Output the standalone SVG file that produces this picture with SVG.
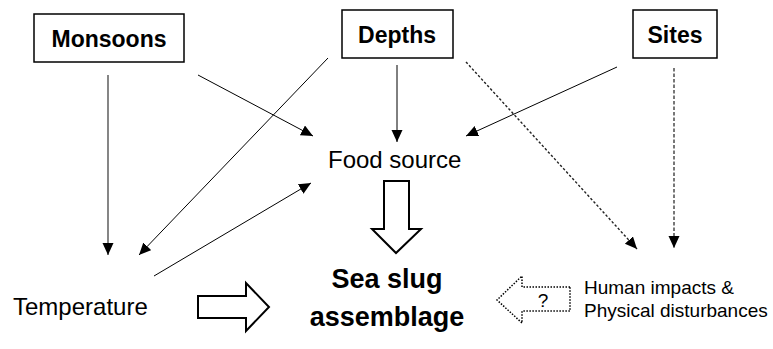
<svg xmlns="http://www.w3.org/2000/svg" width="773" height="349" viewBox="0 0 773 349">
  <style>
    .box { fill: #ffffff; stroke: #000000; stroke-width: 1.5; }
    .title { font-family: "Liberation Sans", Arial, sans-serif; font-weight: bold; font-size: 23px; fill: #000; text-anchor: middle; }
    .label { font-family: "Liberation Sans", Arial, sans-serif; font-size: 24px; fill: #000; }
    .small { font-family: "Liberation Sans", Arial, sans-serif; font-size: 19px; fill: #000; }
    .main { font-family: "Liberation Sans", Arial, sans-serif; font-weight: bold; font-size: 27px; fill: #000; text-anchor: middle; }
    .link { stroke: #000; stroke-width: 1; fill: none; marker-end: url(#tri); }
    .dash { stroke: #222; stroke-width: 1.4; fill: none; stroke-dasharray: 2.5 2; marker-end: url(#tri); }
    .hollow { fill: #fff; stroke: #000; stroke-width: 2; stroke-linejoin: miter; }
    .dotted { fill: #fff; stroke: #000; stroke-width: 1.5; stroke-dasharray: 1.5 1.5; }
  </style>
  <defs>
    <marker id="tri" markerUnits="userSpaceOnUse" markerWidth="14" markerHeight="12" refX="12" refY="5.5" orient="auto">
      <path d="M0,0 L12,5.5 L0,11 Z" fill="#000"/>
    </marker>
  </defs>

  <rect width="773" height="349" fill="#fff"/>

  <g id="connectors">
    <line class="link" x1="108" y1="75" x2="108" y2="255" style="stroke:#444;stroke-width:1.3"/>
    <line class="link" x1="198" y1="75" x2="313" y2="136"/>
    <line class="link" x1="328" y1="58" x2="139" y2="255"/>
    <line class="link" x1="397" y1="65" x2="397" y2="142"/>
    <line class="link" x1="617" y1="67" x2="466" y2="136"/>
    <line class="link" x1="154" y1="276" x2="311" y2="183"/>
    <line class="dash" x1="466" y1="62" x2="637" y2="249"/>
    <line class="dash" x1="674" y1="68" x2="674" y2="248" style="stroke:#777;stroke-width:2;stroke-dasharray:3.5 2"/>
  </g>

  <g id="monsoons">
    <rect class="box" x="34" y="14" width="150" height="48"/>
    <text class="title" x="109" y="47">Monsoons</text>
  </g>

  <g id="depths">
    <rect class="box" x="342" y="10" width="111" height="48"/>
    <text class="title" x="397" y="43">Depths</text>
  </g>

  <g id="sites">
    <rect class="box" x="633" y="10" width="84" height="48"/>
    <text class="title" x="675" y="43">Sites</text>
  </g>

  <g id="food-source">
    <text class="label" x="328" y="168">Food source</text>
  </g>

  <g id="temperature">
    <text class="label" x="13" y="315">Temperature</text>
  </g>

  <g id="human-impacts">
    <text class="small" x="584" y="294">Human impacts &amp;</text>
    <text class="small" x="584" y="317">Physical disturbances</text>
  </g>

  <g id="sea-slug-assemblage">
    <text class="main" x="387" y="288">Sea slug</text>
    <text class="main" x="387" y="326">assemblage</text>
  </g>

  <g id="block-arrows">
    <polygon class="hollow" points="198,296 246,296 246,283 269,307 246,331 246,318 198,318"/>
    <polygon class="hollow" points="384,181 409,181 409,229 421,229 396,253 372,229 384,229"/>
    <polygon class="dotted" points="570,287 522,287 522,276 497,300 522,323 522,311 570,311"/>
    <text class="small" x="543" y="307" text-anchor="middle">?</text>
  </g>
</svg>
